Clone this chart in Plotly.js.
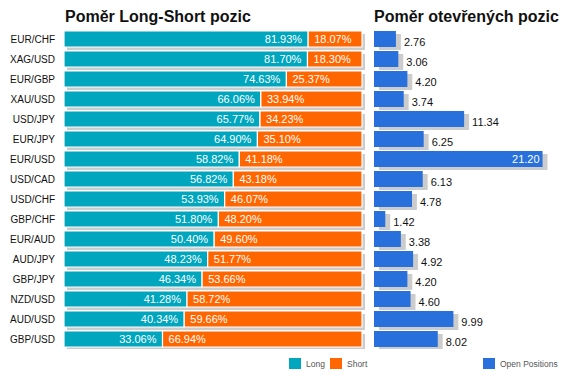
<!DOCTYPE html>
<html><head><meta charset="utf-8">
<script src="https://cdn.plot.ly/plotly-3.0.1.min.js"></script>
<style>html,body{margin:0;padding:0;background:#fff}</style>
</head><body><div id="chart" style="width:572px;height:381px"></div>
<script>
const pairs = ["EUR/CHF","XAG/USD","EUR/GBP","XAU/USD","USD/JPY","EUR/JPY","EUR/USD","USD/CAD","USD/CHF","GBP/CHF","EUR/AUD","AUD/JPY","GBP/JPY","NZD/USD","AUD/USD","GBP/USD"];
const longPct = [81.93,81.70,74.63,66.06,65.77,64.90,58.82,56.82,53.93,51.80,50.40,48.23,46.34,41.28,40.34,33.06];
const shortPct = [18.07,18.30,25.37,33.94,34.23,35.10,41.18,43.18,46.07,48.20,49.60,51.77,53.66,58.72,59.66,66.94];
const openPos = [2.76,3.06,4.20,3.74,11.34,6.25,21.20,6.13,4.78,1.42,3.38,4.92,4.20,4.60,9.99,8.02];
const seriesNames = ["Long","Short","Open Positions"];

const W = 572, H = 381;
const fx = p => p / W;
const fy = p => 1 - p / H;
const FONT = "Liberation Sans, Arial, sans-serif";
const TEAL = "#00A5BE", ORANGE = "#FF6600", BLUE = "#2870DB", SHADOW = "#CCCCCC";
const NB = "\u00A0";
const fmt2 = v => v.toFixed(2);
const maxOpen = Math.max(...openPos);

const traces = [
  { type:"bar", orientation:"h", y:pairs, x:longPct.map((v,i)=>v+shortPct[i]), base:1,
    width:0.8, offset:-0.25, marker:{color:SHADOW}, hoverinfo:"skip", showlegend:false,
    xaxis:"x", yaxis:"y" },
  { type:"bar", orientation:"h", name:seriesNames[0], y:pairs, x:longPct, width:0.8,
    marker:{color:TEAL, line:{color:"#ffffff", width:1.2}}, showlegend:false,
    text:longPct.map(v=>fmt2(v)+"%"+NB), textposition:"inside", insidetextanchor:"end", constraintext:"none",
    textfont:{family:FONT, size:11, color:"#ffffff"}, xaxis:"x", yaxis:"y" },
  { type:"bar", orientation:"h", name:seriesNames[1], y:pairs, x:shortPct, base:longPct, width:0.8,
    marker:{color:ORANGE, line:{color:"#ffffff", width:1.2}}, showlegend:false,
    text:shortPct.map(v=>NB+fmt2(v)+"%"), textposition:"inside", insidetextanchor:"start", constraintext:"none",
    textfont:{family:FONT, size:11, color:"#ffffff"}, xaxis:"x", yaxis:"y" },
  { type:"bar", orientation:"h", y:pairs, x:openPos, base:0.62, width:0.8, offset:-0.25,
    marker:{color:SHADOW}, hoverinfo:"skip", showlegend:false,
    text:openPos.map(v=> v===maxOpen ? "" : fmt2(v)), textposition:"outside", cliponaxis:false, constraintext:"none",
    textfont:{family:FONT, size:11, color:"#111111"}, xaxis:"x2", yaxis:"y2" },
  { type:"bar", orientation:"h", name:seriesNames[2], y:pairs, x:openPos, width:0.8,
    marker:{color:BLUE}, showlegend:false,
    text:openPos.map(v=> v===maxOpen ? fmt2(v) : ""), textposition:"inside", insidetextanchor:"end", constraintext:"none",
    textfont:{family:FONT, size:11, color:"#ffffff"}, xaxis:"x2", yaxis:"y2" }
];

// legend (drawn as swatches + labels)
const legendItems = [
  {name:seriesNames[0], color:TEAL, x:289},
  {name:seriesNames[1], color:ORANGE, x:330},
  {name:seriesNames[2], color:BLUE, x:483}
];
const shapes = legendItems.map(it => ({type:"rect", xref:"paper", yref:"paper",
  x0:fx(it.x), x1:fx(it.x+12), y0:fy(369), y1:fy(358), fillcolor:it.color, line:{width:0}}));
const legendAnn = legendItems.map(it => ({text:it.name, xref:"paper", yref:"paper", x:fx(it.x+15), y:fy(364),
  xanchor:"left", yanchor:"middle", showarrow:false, font:{family:FONT, size:8.5, color:"#555555"}}));

const yBase = { type:"category", range:[15.5,-0.5], showgrid:false, zeroline:false, showline:false, ticks:"", fixedrange:true };
const layout = {
  width:W, height:H, margin:{l:0,r:0,t:0,b:0},
  paper_bgcolor:"#ffffff", plot_bgcolor:"rgba(0,0,0,0)",
  barmode:"overlay", bargap:0.2, showlegend:false,
  font:{family:FONT, size:10, color:"#111111"},
  xaxis:{domain:[fx(64), fx(64+102*2.98)], range:[0,102], showgrid:false, zeroline:false, showticklabels:false, showline:false},
  yaxis:Object.assign({}, yBase, {domain:[fy(349), fy(29)], anchor:"x", showticklabels:true, ticklabelstandoff:8,
    tickfont:{family:FONT, size:10, color:"#111111"}}),
  xaxis2:{domain:[fx(374), fx(374+24*7.95)], range:[0,24], showgrid:false, zeroline:false, showticklabels:false, showline:false, anchor:"y2"},
  yaxis2:Object.assign({}, yBase, {domain:[fy(349), fy(29)], anchor:"x2", showticklabels:false}),
  shapes: shapes,
  annotations:[
    {text:"<b>Poměr Long-Short pozic</b>", xref:"paper", yref:"paper", x:fx(63), y:fy(16), xanchor:"left", yanchor:"middle",
     showarrow:false, font:{family:FONT, size:16, color:"#111111"}},
    {text:"<b>Poměr otevřených pozic</b>", xref:"paper", yref:"paper", x:fx(372), y:fy(16), xanchor:"left", yanchor:"middle",
     showarrow:false, font:{family:FONT, size:16, color:"#111111"}}
  ].concat(legendAnn)
};
Plotly.newPlot("chart", traces, layout, {displayModeBar:false, staticPlot:true});
</script></body></html>
